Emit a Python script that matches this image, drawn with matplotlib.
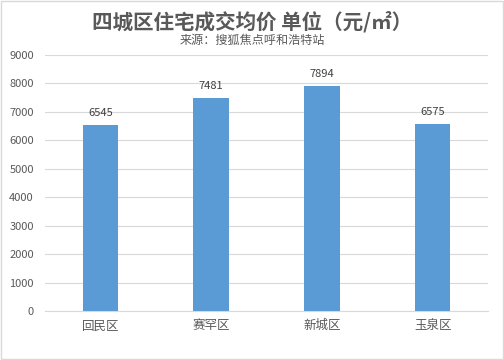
import matplotlib.pyplot as plt

plt.rcParams['font.family'] = ['Noto Sans CJK SC', 'DejaVu Sans']

# Data
districts = ["回民区", "赛罕区", "新城区", "玉泉区"]
prices = [6545, 7481, 7894, 6575]
yticks = [0, 1000, 2000, 3000, 4000, 5000, 6000, 7000, 8000, 9000]

fig = plt.figure(figsize=(5.04, 3.6), dpi=100)
ax = fig.add_axes([45 / 504, 1 - 311 / 360, 443 / 504, 256 / 360])

bars = ax.bar(range(len(districts)), prices, width=0.32, color="#5B9BD5", zorder=3)
for i, v in enumerate(prices):
    ax.text(i, v + 250, str(v), ha="center", va="bottom", fontsize=8, color="#404040")

ax.set_xlim(-0.5, len(districts) - 0.5)
ax.set_ylim(0, 9000)
ax.set_yticks(yticks)
ax.set_yticklabels([str(t) for t in yticks], fontsize=8, color="#595959")
ax.set_xticks(range(len(districts)))
ax.set_xticklabels(districts, fontsize=9, color="#595959")
ax.tick_params(axis="both", length=0)
ax.tick_params(axis="y", pad=8)
ax.tick_params(axis="x", pad=6)
ax.grid(axis="y", color="#D9D9D9", linewidth=0.8, zorder=0)
for s in ["top", "right", "left"]:
    ax.spines[s].set_visible(False)
ax.spines["bottom"].set_color("#D9D9D9")

fig.text(0.5, 1 - 22 / 360, "四城区住宅成交均价 单位（元/㎡）", ha="center", va="center",
         fontsize=14.8, fontweight="bold", color="#595959")
fig.text(0.5, 1 - 40 / 360, "来源：搜狐焦点呼和浩特站", ha="center", va="center",
         fontsize=8.7, color="#595959")

# outer frame
fig.patches.append(plt.Rectangle((0.002, 0.002), 0.996, 0.996, transform=fig.transFigure,
                                 fill=False, edgecolor="#D9D9D9", linewidth=1))

plt.savefig("out.png", dpi=100)
